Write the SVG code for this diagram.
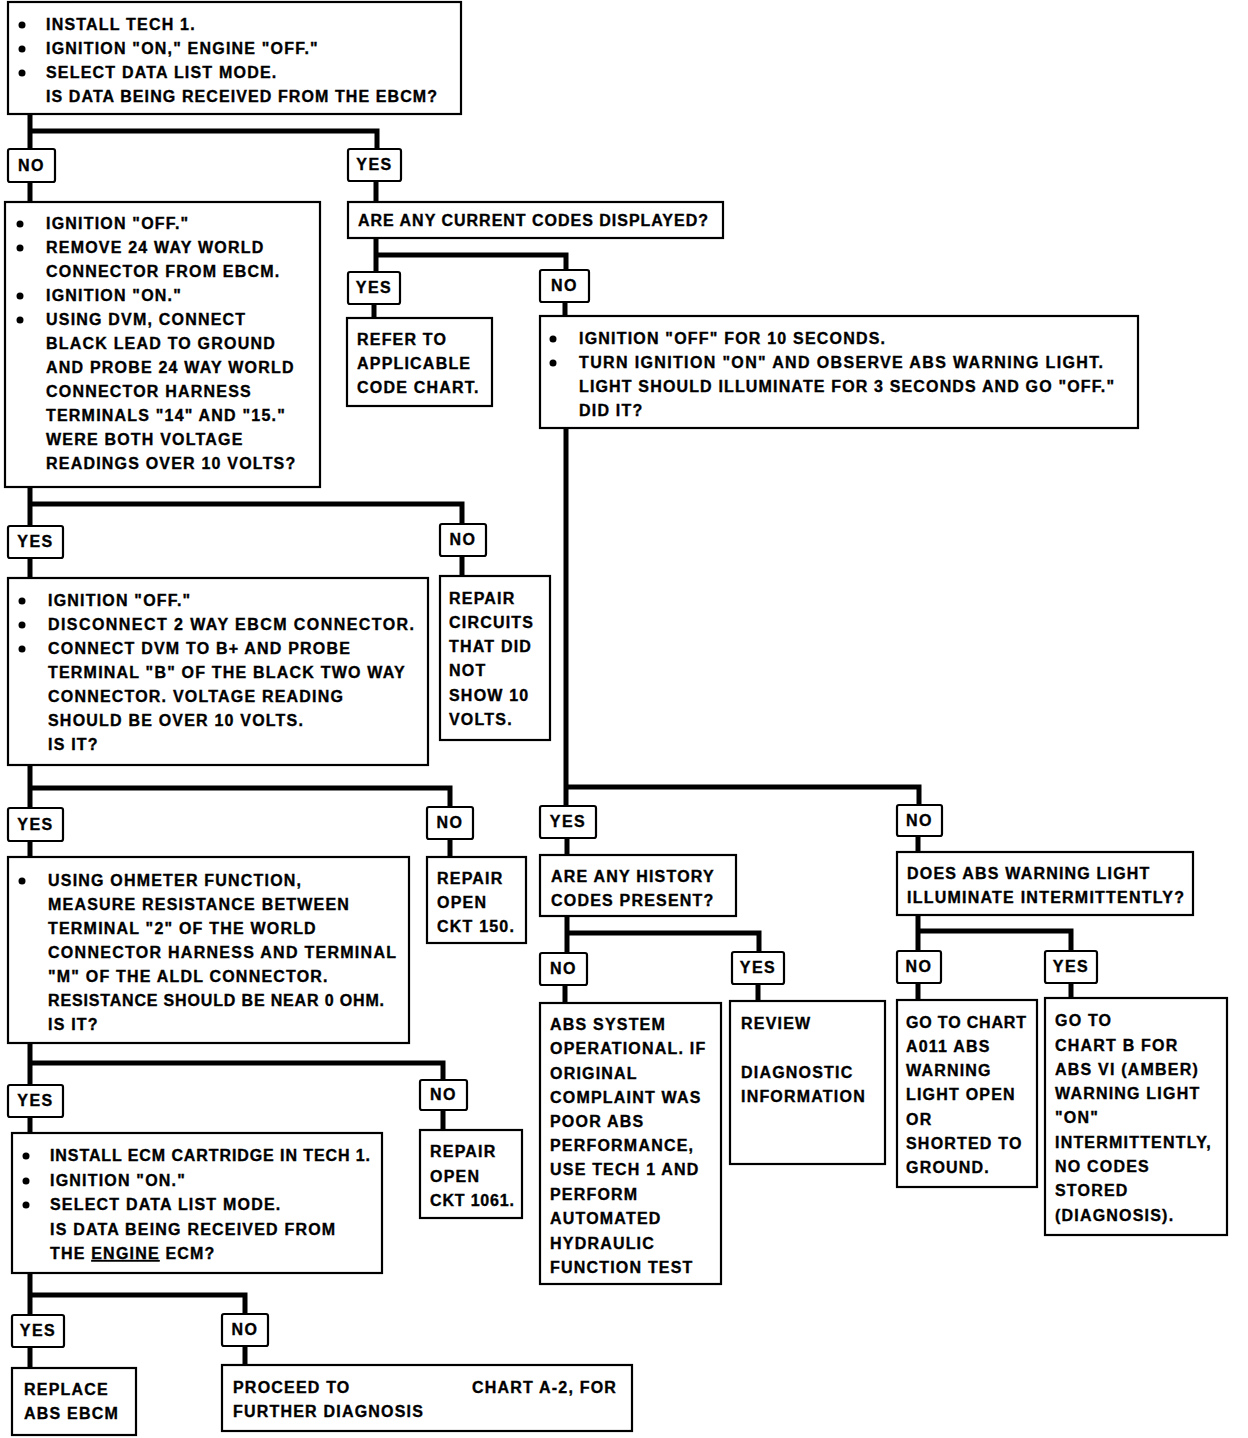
<svg xmlns="http://www.w3.org/2000/svg" width="1248" height="1438" viewBox="0 0 1248 1438">
<style>
.box{fill:#fff;stroke:#000;stroke-width:2.2}
.lbl{fill:#fff;stroke:#000;stroke-width:2.2}
.conn{fill:none;stroke:#000;stroke-width:5;stroke-linejoin:miter}
text{font-family:"Liberation Sans",Arial,sans-serif;font-weight:bold;font-size:16px;letter-spacing:1.2px;fill:#000;stroke:#000;stroke-width:0.35}
.fit{letter-spacing:0}
.lt{text-anchor:middle;letter-spacing:1.5px}
.b{fill:#000}
</style>
<rect width="1248" height="1438" fill="#fff"/>
<g id="connectors">
<path class="conn" d="M30,114 V131 H377 V149 M30,131 V149 M30,182 V202 M376,181 V202"/>
<path class="conn" d="M376,238 V255 H566 V270 M376,255 V272 M374,304 V318 M565,302 V316"/>
<path class="conn" d="M566,428 V787 H919 V805 M566,787 V806 M567,838 V855 M918,836 V852"/>
<path class="conn" d="M567,916 V933 H759 V952 M567,933 V953 M565,985 V1003 M758,984 V1001"/>
<path class="conn" d="M918,915 V931 H1071 V951 M918,931 V951 M918,983 V1000 M1071,983 V998"/>
<path class="conn" d="M30,487 V504 H462 V524 M30,504 V526 M30,558 V578 M462,556 V576"/>
<path class="conn" d="M30,765 V788 H450 V807 M30,788 V808 M30,841 V857 M450,839 V857"/>
<path class="conn" d="M30,1043 V1063 H443 V1080 M30,1063 V1085 M30,1117 V1133 M443,1110 V1130"/>
<path class="conn" d="M30,1273 V1295 H245 V1314 M30,1295 V1315 M30,1347 V1368 M245,1346 V1365"/>
</g>

<g id="n-start">
<rect class="box" x="8" y="2" width="453" height="112"/>
<circle class="b" cx="22" cy="25" r="3.5"/><circle class="b" cx="22" cy="49" r="3.5"/><circle class="b" cx="22" cy="73" r="3.5"/>
<text x="46" y="30">INSTALL TECH 1.</text>
<text x="46" y="54">IGNITION "ON," ENGINE "OFF."</text>
<text x="46" y="78">SELECT DATA LIST MODE.</text>
<text class="fit" x="46" y="102" textLength="391" lengthAdjust="spacing">IS DATA BEING RECEIVED FROM THE EBCM?</text>
</g>

<g id="l-no1"><rect class="lbl" x="8" y="149" width="47" height="33" rx="2"/><text class="lt" x="31.5" y="171">NO</text></g>
<g id="l-yes1"><rect class="lbl" x="348" y="149" width="53" height="32" rx="2"/><text class="lt" x="374.5" y="170">YES</text></g>

<g id="n-voltage">
<rect class="box" x="5" y="202" width="315" height="285"/>
<circle class="b" cx="20" cy="224" r="3.5"/><circle class="b" cx="20" cy="248" r="3.5"/><circle class="b" cx="20" cy="296" r="3.5"/><circle class="b" cx="20" cy="320" r="3.5"/>
<text x="46" y="229">IGNITION "OFF."</text>
<text x="46" y="253">REMOVE 24 WAY WORLD</text>
<text x="46" y="277">CONNECTOR FROM EBCM.</text>
<text x="46" y="301">IGNITION "ON."</text>
<text x="46" y="325">USING DVM, CONNECT</text>
<text x="46" y="349">BLACK LEAD TO GROUND</text>
<text x="46" y="373">AND PROBE 24 WAY WORLD</text>
<text x="46" y="397">CONNECTOR HARNESS</text>
<text x="46" y="421">TERMINALS "14" AND "15."</text>
<text x="46" y="445">WERE BOTH VOLTAGE</text>
<text x="46" y="469">READINGS OVER 10 VOLTS?</text>
</g>

<g id="n-current">
<rect class="box" x="348" y="202" width="375" height="36"/>
<text class="fit" x="358" y="226" textLength="350" lengthAdjust="spacing">ARE ANY CURRENT CODES DISPLAYED?</text>
</g>

<g id="l-yes2"><rect class="lbl" x="348" y="272" width="52" height="32" rx="2"/><text class="lt" x="374" y="293">YES</text></g>
<g id="l-no2"><rect class="lbl" x="540" y="270" width="49" height="32" rx="2"/><text class="lt" x="564.5" y="291">NO</text></g>

<g id="n-refer">
<rect class="box" x="347" y="318" width="145" height="88"/>
<text x="357" y="345">REFER TO</text>
<text x="357" y="369">APPLICABLE</text>
<text x="357" y="393">CODE CHART.</text>
</g>

<g id="n-lamp">
<rect class="box" x="540" y="316" width="598" height="112"/>
<circle class="b" cx="553" cy="339" r="3.5"/><circle class="b" cx="553" cy="363" r="3.5"/>
<text x="579" y="344">IGNITION "OFF" FOR 10 SECONDS.</text>
<text class="fit" x="579" y="368" textLength="524" lengthAdjust="spacing">TURN IGNITION "ON" AND OBSERVE ABS WARNING LIGHT.</text>
<text class="fit" x="579" y="392" textLength="535" lengthAdjust="spacing">LIGHT SHOULD ILLUMINATE FOR 3 SECONDS AND GO "OFF."</text>
<text x="579" y="416">DID IT?</text>
</g>

<g id="l-yes3"><rect class="lbl" x="8" y="526" width="55" height="32" rx="2"/><text class="lt" x="35.5" y="547">YES</text></g>
<g id="l-no3"><rect class="lbl" x="440" y="524" width="46" height="32" rx="2"/><text class="lt" x="463" y="545">NO</text></g>

<g id="n-bplus">
<rect class="box" x="8" y="578" width="420" height="187"/>
<circle class="b" cx="22" cy="601" r="3.5"/><circle class="b" cx="22" cy="625" r="3.5"/><circle class="b" cx="22" cy="649" r="3.5"/>
<text x="48" y="606">IGNITION "OFF."</text>
<text class="fit" x="48" y="630" textLength="366" lengthAdjust="spacing">DISCONNECT 2 WAY EBCM CONNECTOR.</text>
<text x="48" y="654">CONNECT DVM TO B+ AND PROBE</text>
<text x="48" y="678">TERMINAL "B" OF THE BLACK TWO WAY</text>
<text x="48" y="702">CONNECTOR. VOLTAGE READING</text>
<text x="48" y="726">SHOULD BE OVER 10 VOLTS.</text>
<text x="48" y="750">IS IT?</text>
</g>

<g id="n-repair-circuits">
<rect class="box" x="440" y="576" width="110" height="164"/>
<text x="449" y="604">REPAIR</text>
<text x="449" y="628">CIRCUITS</text>
<text x="449" y="652">THAT DID</text>
<text x="449" y="676">NOT</text>
<text x="449" y="701">SHOW 10</text>
<text x="449" y="725">VOLTS.</text>
</g>

<g id="l-yes4"><rect class="lbl" x="8" y="808" width="55" height="33" rx="2"/><text class="lt" x="35.5" y="830">YES</text></g>
<g id="l-no4"><rect class="lbl" x="427" y="807" width="46" height="32" rx="2"/><text class="lt" x="450" y="828">NO</text></g>

<g id="n-ohm">
<rect class="box" x="8" y="857" width="401" height="186"/>
<circle class="b" cx="22" cy="881" r="3.5"/>
<text x="48" y="886">USING OHMETER FUNCTION,</text>
<text x="48" y="910">MEASURE RESISTANCE BETWEEN</text>
<text x="48" y="934">TERMINAL "2" OF THE WORLD</text>
<text class="fit" x="48" y="958" textLength="348" lengthAdjust="spacing">CONNECTOR HARNESS AND TERMINAL</text>
<text x="48" y="982">"M" OF THE ALDL CONNECTOR.</text>
<text class="fit" x="48" y="1006" textLength="336" lengthAdjust="spacing">RESISTANCE SHOULD BE NEAR 0 OHM.</text>
<text x="48" y="1030">IS IT?</text>
</g>

<g id="n-repair150">
<rect class="box" x="427" y="857" width="99" height="86"/>
<text x="437" y="884">REPAIR</text>
<text x="437" y="908">OPEN</text>
<text x="437" y="932">CKT 150.</text>
</g>

<g id="l-yes5"><rect class="lbl" x="8" y="1085" width="55" height="32" rx="2"/><text class="lt" x="35.5" y="1106">YES</text></g>
<g id="l-no5"><rect class="lbl" x="420" y="1080" width="47" height="30" rx="2"/><text class="lt" x="443.5" y="1100">NO</text></g>

<g id="n-ecm">
<rect class="box" x="12" y="1133" width="370" height="140"/>
<circle class="b" cx="26" cy="1156" r="3.5"/><circle class="b" cx="26" cy="1181" r="3.5"/><circle class="b" cx="26" cy="1205" r="3.5"/>
<text class="fit" x="50" y="1161" textLength="320" lengthAdjust="spacing">INSTALL ECM CARTRIDGE IN TECH 1.</text>
<text x="50" y="1186">IGNITION "ON."</text>
<text x="50" y="1210">SELECT DATA LIST MODE.</text>
<text x="50" y="1235">IS DATA BEING RECEIVED FROM</text>
<text x="50" y="1259">THE <tspan text-decoration="underline">ENGINE</tspan> ECM?</text>
</g>

<g id="n-repair1061">
<rect class="box" x="420" y="1130" width="102" height="88"/>
<text x="430" y="1157">REPAIR</text>
<text x="430" y="1182">OPEN</text>
<text class="fit" x="430" y="1206" textLength="84" lengthAdjust="spacing">CKT 1061.</text>
</g>

<g id="l-yes6"><rect class="lbl" x="12" y="1315" width="52" height="32" rx="2"/><text class="lt" x="38" y="1336">YES</text></g>
<g id="l-no6"><rect class="lbl" x="222" y="1314" width="46" height="32" rx="2"/><text class="lt" x="245" y="1335">NO</text></g>

<g id="n-replace">
<rect class="box" x="12" y="1368" width="124" height="67"/>
<text x="24" y="1395">REPLACE</text>
<text x="24" y="1419">ABS EBCM</text>
</g>

<g id="n-proceed">
<rect class="box" x="222" y="1365" width="410" height="66"/>
<text x="233" y="1393">PROCEED TO</text>
<text x="472" y="1393">CHART A-2, FOR</text>
<text x="233" y="1417">FURTHER DIAGNOSIS</text>
</g>

<g id="l-yes7"><rect class="lbl" x="540" y="806" width="56" height="32" rx="2"/><text class="lt" x="568" y="827">YES</text></g>
<g id="l-no7"><rect class="lbl" x="897" y="805" width="45" height="31" rx="2"/><text class="lt" x="919.5" y="826">NO</text></g>

<g id="n-history">
<rect class="box" x="540" y="855" width="196" height="61"/>
<text x="551" y="882">ARE ANY HISTORY</text>
<text x="551" y="906">CODES PRESENT?</text>
</g>

<g id="n-intermittent">
<rect class="box" x="897" y="852" width="296" height="63"/>
<text x="907" y="879">DOES ABS WARNING LIGHT</text>
<text class="fit" x="907" y="903" textLength="277" lengthAdjust="spacing">ILLUMINATE INTERMITTENTLY?</text>
</g>

<g id="l-no8"><rect class="lbl" x="540" y="953" width="47" height="32" rx="2"/><text class="lt" x="563.5" y="974">NO</text></g>
<g id="l-yes8"><rect class="lbl" x="732" y="952" width="52" height="32" rx="2"/><text class="lt" x="758" y="973">YES</text></g>
<g id="l-no9"><rect class="lbl" x="897" y="951" width="44" height="32" rx="2"/><text class="lt" x="919" y="972">NO</text></g>
<g id="l-yes9"><rect class="lbl" x="1045" y="951" width="52" height="32" rx="2"/><text class="lt" x="1071" y="972">YES</text></g>

<g id="n-operational">
<rect class="box" x="540" y="1003" width="181" height="281"/>
<text x="550" y="1030">ABS SYSTEM</text>
<text x="550" y="1054">OPERATIONAL. IF</text>
<text x="550" y="1079">ORIGINAL</text>
<text x="550" y="1103">COMPLAINT WAS</text>
<text x="550" y="1127">POOR ABS</text>
<text x="550" y="1151">PERFORMANCE,</text>
<text x="550" y="1175">USE TECH 1 AND</text>
<text x="550" y="1200">PERFORM</text>
<text x="550" y="1224">AUTOMATED</text>
<text x="550" y="1249">HYDRAULIC</text>
<text x="550" y="1273">FUNCTION TEST</text>
</g>

<g id="n-review">
<rect class="box" x="730" y="1001" width="155" height="163"/>
<text x="741" y="1029">REVIEW</text>
<text x="741" y="1078">DIAGNOSTIC</text>
<text x="741" y="1102">INFORMATION</text>
</g>

<g id="n-a011">
<rect class="box" x="897" y="1000" width="140" height="187"/>
<text class="fit" x="906" y="1028" textLength="120" lengthAdjust="spacing">GO TO CHART</text>
<text x="906" y="1052">A011 ABS</text>
<text x="906" y="1076">WARNING</text>
<text x="906" y="1100">LIGHT OPEN</text>
<text x="906" y="1125">OR</text>
<text x="906" y="1149">SHORTED TO</text>
<text x="906" y="1173">GROUND.</text>
</g>

<g id="n-chartb">
<rect class="box" x="1045" y="998" width="182" height="237"/>
<text x="1055" y="1026">GO TO</text>
<text x="1055" y="1051">CHART B FOR</text>
<text x="1055" y="1075">ABS VI (AMBER)</text>
<text x="1055" y="1099">WARNING LIGHT</text>
<text x="1055" y="1123">"ON"</text>
<text x="1055" y="1148">INTERMITTENTLY,</text>
<text x="1055" y="1172">NO CODES</text>
<text x="1055" y="1196">STORED</text>
<text x="1055" y="1221">(DIAGNOSIS).</text>
</g>
</svg>
